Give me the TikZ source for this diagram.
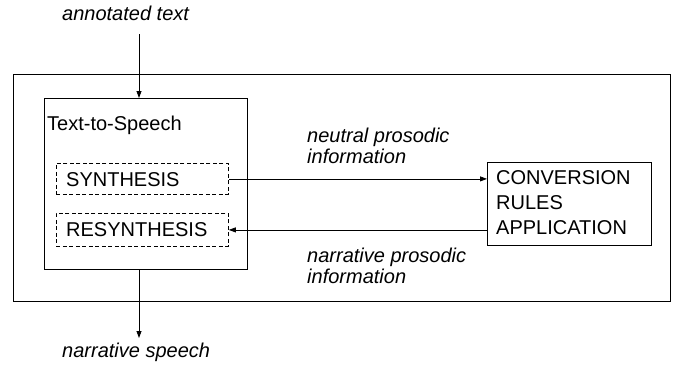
\documentclass[tikz,border=0pt]{standalone}
\usepackage{fontspec}
\setmainfont{Liberation Sans}
\usetikzlibrary{arrows.meta}
\begin{document}
\begin{tikzpicture}[x=1pt,y=-1pt,
  box/.style={draw, line width=0.8pt, inner sep=0pt, anchor=north west},
  dbox/.style={box, dash pattern=on 4pt off 2.5pt},
  lbl/.style={anchor=base west, inner sep=0pt, font=\fontsize{20}{24}\selectfont},
  ilbl/.style={anchor=base west, inner sep=0pt, font=\fontsize{20}{24}\selectfont\itshape},
  arr/.style={line width=0.8pt, -{Triangle[length=7pt,width=5pt]}}]
\useasboundingbox (0,0) rectangle (684,375);
% boxes
\node[box, minimum width=657pt, minimum height=227pt] (outer) at (13,74) {};
\node[box, minimum width=203pt, minimum height=171pt] (tts) at (44,98) {};
\node[dbox, minimum width=172pt, minimum height=31pt] (syn) at (56,163) {};
\node[dbox, minimum width=172pt, minimum height=33pt] (resyn) at (56,213) {};
\node[box, minimum width=164pt, minimum height=83pt] (conv) at (487,162) {};
% texts
\node[lbl] (ttst) at (47,130) {Text-to-Speech};
\node[lbl] (synt) at (66,186) {SYNTHESIS};
\node[lbl] (resynt) at (66,236) {RESYNTHESIS};
\node[lbl] (conv1) at (496,184) {CONVERSION};
\node[lbl] (conv2) at (496,209) {RULES};
\node[lbl] (conv3) at (496,234) {APPLICATION};
\node[ilbl] (ann) at (62,20) {annotated text};
\node[ilbl] (nsp) at (62,357) {narrative speech};
\node[ilbl] (np1) at (307,142) {neutral prosodic};
\node[ilbl] (np2) at (307,163) {information};
\node[ilbl] (rp1) at (307,262) {narrative prosodic};
\node[ilbl] (rp2) at (307,283) {information};
% connectors
\coordinate (in) at (139,34);
\coordinate (out) at (139,338);
\draw[arr] (in) -- (in |- tts.north);
\draw[arr] (out |- tts.south) -- (out);
\draw[arr] (syn.east) -- (conv.west |- syn.east);
\draw[arr] (conv.west |- resyn.east) -- (resyn.east);
\end{tikzpicture}
\end{document}
